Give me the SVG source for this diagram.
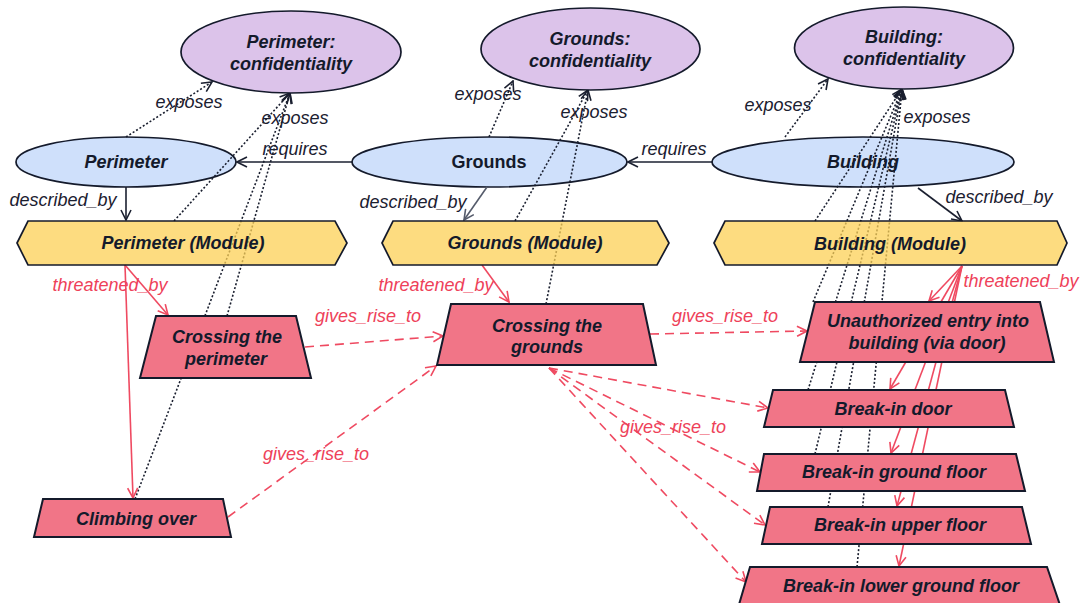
<svg xmlns="http://www.w3.org/2000/svg" width="1081" height="603" viewBox="0 0 1081 603">
  <defs>
    <style>
      .node { stroke: #141a2b; stroke-width: 1.7; }
      .asset { fill: #cfe0fb; }
      .prop { fill: #dcc3ea; }
      .module { fill: #fcd056; fill-opacity: 0.75; }
      .threat { fill: #f17587; stroke-width: 2; }
      .nt { font-family: "Liberation Sans", Arial, sans-serif; font-size: 18px; font-weight: bold; font-style: italic; fill: #141a2b; text-anchor: middle; }
      .upright { font-style: normal; }
      .lbl { font-family: "Liberation Sans", Arial, sans-serif; font-size: 18px; font-style: italic; text-anchor: middle; }
      .lbl-dark { fill: #1b2030; }
      .lbl-red { fill: #ee4159; }
      .rel { fill: none; stroke: #1b2030; stroke-width: 1.6; marker-end: url(#ah-dark); }
      .rel-gray { fill: none; stroke: #555b6b; stroke-width: 1.6; marker-end: url(#ah-gray); }
      .exposes { fill: none; stroke: #1b2030; stroke-width: 1.6; stroke-dasharray: 2 2; marker-end: url(#ah-dark); }
      .threatened { fill: none; stroke: #ef4a61; stroke-width: 1.6; marker-end: url(#ah-red); }
      .gives { fill: none; stroke: #ef4a61; stroke-width: 1.6; stroke-dasharray: 9 6; marker-end: url(#ah-red); }
    </style>
    <marker id="ah-dark" viewBox="0 0 12 12" refX="11" refY="6" markerWidth="12" markerHeight="12" markerUnits="userSpaceOnUse" orient="auto">
      <path d="M1,1 L11,6 L1,11" fill="none" stroke="#1b2030" stroke-width="1.6"/>
    </marker>
    <marker id="ah-gray" viewBox="0 0 12 12" refX="11" refY="6" markerWidth="12" markerHeight="12" markerUnits="userSpaceOnUse" orient="auto">
      <path d="M1,1 L11,6 L1,11" fill="none" stroke="#555b6b" stroke-width="1.6"/>
    </marker>
    <marker id="ah-red" viewBox="0 0 12 12" refX="11" refY="6" markerWidth="12" markerHeight="12" markerUnits="userSpaceOnUse" orient="auto">
      <path d="M1,1 L11,6 L1,11" fill="none" stroke="#ef4a61" stroke-width="1.6"/>
    </marker>
  </defs>

  <rect width="1081" height="603" fill="#ffffff"/>

  <!-- asset ellipses (drawn beneath the connectors) -->
  <g id="perimeter">
    <ellipse class="node asset" cx="126" cy="162" rx="110" ry="25"/>
    <text class="nt" x="126" y="168">Perimeter</text>
  </g>
  <g id="grounds">
    <ellipse class="node asset" cx="489.5" cy="162" rx="137.5" ry="25"/>
    <text class="nt upright" x="489" y="168">Grounds</text>
  </g>
  <g id="building">
    <ellipse class="node asset" cx="863" cy="162" rx="151" ry="25"/>
    <text class="nt" x="863" y="168">Building</text>
  </g>

  <g id="connectors">
    <!-- requires -->
    <line class="rel" x1="352" y1="162" x2="237" y2="162"/>
    <line class="rel" x1="712" y1="162" x2="628" y2="162"/>
    <!-- described_by -->
    <line class="rel" x1="126" y1="187" x2="126" y2="220"/>
    <line class="rel-gray" x1="487" y1="187" x2="464" y2="220"/>
    <line class="rel" x1="918" y1="188" x2="962" y2="221"/>

    <!-- exposes -->
    <line class="exposes" x1="126" y1="137" x2="212" y2="82"/>
    <line class="exposes" x1="174" y1="221" x2="290" y2="93"/>
    <line class="exposes" x1="227" y1="316" x2="290" y2="93"/>
    <line class="exposes" x1="135" y1="499" x2="290" y2="93"/>

    <line class="exposes" x1="489" y1="137" x2="513" y2="81"/>
    <line class="exposes" x1="515" y1="221" x2="588" y2="90"/>
    <line class="exposes" x1="546" y1="304" x2="588" y2="90"/>

    <line class="exposes" x1="785" y1="137" x2="828" y2="79"/>
    <line class="exposes" x1="815" y1="221" x2="902" y2="89"/>
    <line class="exposes" x1="813" y1="302" x2="902" y2="89"/>
    <line class="exposes" x1="808" y1="390" x2="902" y2="89"/>
    <line class="exposes" x1="815" y1="454" x2="902" y2="89"/>
    <line class="exposes" x1="828" y1="507" x2="902" y2="89"/>
    <line class="exposes" x1="857" y1="567" x2="902" y2="89"/>

    <!-- threatened_by -->
    <line class="threatened" x1="125" y1="265" x2="168" y2="315"/>
    <line class="threatened" x1="125" y1="265" x2="133" y2="498"/>
    <line class="threatened" x1="482" y1="265" x2="509" y2="302"/>
    <line class="threatened" x1="962" y1="266" x2="929" y2="301"/>
    <line class="threatened" x1="962" y1="266" x2="890" y2="389"/>
    <line class="threatened" x1="962" y1="266" x2="891" y2="453"/>
    <line class="threatened" x1="962" y1="266" x2="897" y2="506"/>
    <line class="threatened" x1="962" y1="266" x2="899" y2="566"/>

    <!-- gives_rise_to -->
    <line class="gives" x1="305" y1="347" x2="443" y2="336"/>
    <line class="gives" x1="228" y1="517" x2="436" y2="366"/>
    <line class="gives" x1="650" y1="334" x2="807" y2="331"/>
    <line class="gives" x1="549" y1="368" x2="768" y2="408"/>
    <line class="gives" x1="549" y1="368" x2="760" y2="472"/>
    <line class="gives" x1="549" y1="368" x2="765" y2="525"/>
    <line class="gives" x1="549" y1="368" x2="746" y2="582"/>

    <!-- connector labels -->
    <text class="lbl lbl-dark" x="189" y="108">exposes</text>
    <text class="lbl lbl-dark" x="295" y="124">exposes</text>
    <text class="lbl lbl-dark" x="295" y="155">requires</text>
    <text class="lbl lbl-dark" x="63" y="206">described_by</text>
    <text class="lbl lbl-dark" x="488" y="100">exposes</text>
    <text class="lbl lbl-dark" x="594" y="118">exposes</text>
    <text class="lbl lbl-dark" x="674" y="155">requires</text>
    <text class="lbl lbl-dark" x="413" y="208">described_by</text>
    <text class="lbl lbl-dark" x="778" y="111">exposes</text>
    <text class="lbl lbl-dark" x="937" y="123">exposes</text>
    <text class="lbl lbl-dark" x="999" y="203">described_by</text>
    <text class="lbl lbl-red" x="110" y="291">threatened_by</text>
    <text class="lbl lbl-red" x="436" y="291">threatened_by</text>
    <text class="lbl lbl-red" x="1021" y="287">threatened_by</text>
    <text class="lbl lbl-red" x="368" y="322">gives_rise_to</text>
    <text class="lbl lbl-red" x="725" y="322">gives_rise_to</text>
    <text class="lbl lbl-red" x="316" y="460">gives_rise_to</text>
    <text class="lbl lbl-red" x="673" y="433">gives_rise_to</text>
  </g>

  <!-- modules -->
  <g id="perimeter-module">
    <polygon class="node module" points="17,243 28,221 335,221 347,243 335,265 28,265"/>
    <text class="nt" x="183" y="249">Perimeter (Module)</text>
  </g>
  <g id="grounds-module">
    <polygon class="node module" points="382,243 393,221 657,221 669,243 657,265 393,265"/>
    <text class="nt" x="525" y="249">Grounds (Module)</text>
  </g>
  <g id="building-module">
    <polygon class="node module" points="714,243 725,221 1057,221 1067,243 1057,265 725,265"/>
    <text class="nt" x="890" y="250">Building (Module)</text>
  </g>

  <!-- confidentiality properties -->
  <g id="perimeter-confidentiality">
    <ellipse class="node prop" cx="291" cy="52" rx="110" ry="41"/>
    <text class="nt" x="291" y="48">Perimeter:</text>
    <text class="nt" x="291" y="70">confidentiality</text>
  </g>
  <g id="grounds-confidentiality">
    <ellipse class="node prop" cx="590.5" cy="49" rx="109.5" ry="41"/>
    <text class="nt" x="590" y="45">Grounds:</text>
    <text class="nt" x="590" y="67">confidentiality</text>
  </g>
  <g id="building-confidentiality">
    <ellipse class="node prop" cx="904" cy="48" rx="109.5" ry="41"/>
    <text class="nt" x="904" y="43">Building:</text>
    <text class="nt" x="904" y="65">confidentiality</text>
  </g>

  <!-- threats -->
  <g id="crossing-perimeter">
    <polygon class="node threat" points="156,316 296,316 311,378 140,378"/>
    <text class="nt" x="227" y="343">Crossing the</text>
    <text class="nt" x="226" y="365">perimeter</text>
  </g>
  <g id="climbing-over">
    <polygon class="node threat" points="43,499 223,499 231,537 34,537"/>
    <text class="nt" x="136" y="525">Climbing over</text>
  </g>
  <g id="crossing-grounds">
    <polygon class="node threat" points="451,304 643,304 656,365 437,365"/>
    <text class="nt" x="547" y="332">Crossing the</text>
    <text class="nt" x="547" y="353">grounds</text>
  </g>
  <g id="unauthorized-entry">
    <polygon class="node threat" points="815,302 1040,302 1054,362 800,362"/>
    <text class="nt" x="928" y="327">Unauthorized entry into</text>
    <text class="nt" x="927" y="349">building (via door)</text>
  </g>
  <g id="break-in-door">
    <polygon class="node threat" points="773,390 1005,390 1014,427 764,427"/>
    <text class="nt" x="893" y="415">Break-in door</text>
  </g>
  <g id="break-in-ground-floor">
    <polygon class="node threat" points="764,454 1016,454 1025,491 757,491"/>
    <text class="nt" x="894" y="478">Break-in ground floor</text>
  </g>
  <g id="break-in-upper-floor">
    <polygon class="node threat" points="770,507 1022,507 1031,544 762,544"/>
    <text class="nt" x="900" y="531">Break-in upper floor</text>
  </g>
  <g id="break-in-lower-ground-floor">
    <polygon class="node threat" points="750,567 1047,567 1061,608 738,608"/>
    <text class="nt" x="901" y="592">Break-in lower ground floor</text>
  </g>
</svg>
